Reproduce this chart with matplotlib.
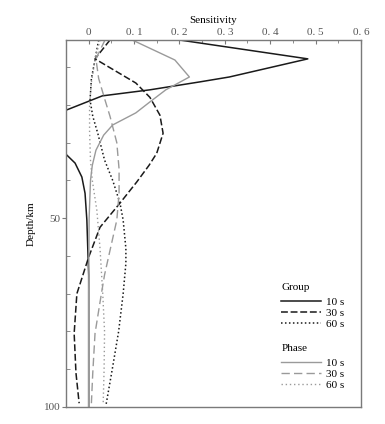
import numpy as np
import matplotlib
matplotlib.use("Agg")
import matplotlib.pyplot as plt
from matplotlib.ticker import MultipleLocator, FixedLocator, FixedFormatter

plt.rcParams['font.family'] = ['Liberation Serif', 'DejaVu Serif']

# Group velocity sensitivity kernels (depth in km, sensitivity)
group_10_depth = [2.8, 7.8, 12.6, 13.9, 16.0, 17.6, 21.4, 25, 29, 33.3, 35.4, 39.1, 43.4, 50.5, 58, 65, 80, 100]
group_10_sens = [0.2, 0.483, 0.31, 0.245, 0.135, 0.03, -0.05, -0.09, -0.08, -0.048, -0.03, -0.015, -0.008, -0.004, -0.002, 0.0, 0.0, 0.0]

group_30_depth = [2.8, 7.8, 14.2, 18, 22.7, 27.5, 32.8, 36, 40.4, 46, 52.4, 60.3, 70, 80.5, 91, 99]
group_30_sens = [0.047, 0.014, 0.104, 0.135, 0.157, 0.164, 0.150, 0.133, 0.106, 0.069, 0.025, 0.0, -0.026, -0.032, -0.028, -0.021]

group_60_depth = [2.8, 8, 13, 18.7, 23, 27.5, 34.6, 40, 46, 50.5, 58, 62, 70, 80, 90, 99.6]
group_60_sens = [0.022, 0.014, 0.006, 0.003, 0.009, 0.02, 0.035, 0.053, 0.069, 0.076, 0.082, 0.082, 0.076, 0.066, 0.052, 0.038]

# Phase velocity sensitivity kernels
phase_10_depth = [2.8, 8.1, 12.6, 16, 19.2, 22.1, 25.3, 28, 32, 36, 40, 50, 70, 100]
phase_10_sens = [0.096, 0.19, 0.222, 0.17, 0.135, 0.104, 0.053, 0.033, 0.016, 0.008, 0.004, 0.001, 0.0, 0.0]

phase_30_depth = [2.8, 7.8, 13, 18.7, 23, 30, 37, 43.4, 50.5, 58, 65, 70, 80.5, 91, 99]
phase_30_sens = [0.036, 0.016, 0.022, 0.036, 0.047, 0.062, 0.067, 0.067, 0.062, 0.048, 0.035, 0.028, 0.014, 0.009, 0.006]

phase_60_depth = [2.8, 8, 14, 20, 27, 34.6, 40, 47.9, 58, 70, 80, 90, 99]
phase_60_sens = [0.025, 0.014, 0.006, 0.002, 0.002, 0.004, 0.008, 0.018, 0.025, 0.031, 0.035, 0.034, 0.032]

x_ticks = [0, 0.1, 0.2, 0.3, 0.4, 0.5, 0.6]
x_tick_labels = ["0", "0. 1", "0. 2", "0. 3", "0. 4", "0. 5", "0. 6"]
periods = ["10 s", "30 s", "60 s"]

black = "#1a1a1a"
grey = "#9a9a9a"
spine_grey = "#7a7a7a"

fig = plt.figure(figsize=(3.85, 4.24), dpi=100)
ax = fig.add_axes([0.1714, 0.0401, 0.766, 0.8656])

styles = ["-", (0, (4.5, 1.8)), (0, (1, 1.6))]
phase_styles = ["-", (0, (6, 3)), (0, (1, 2))]

g_lines = []
for d, s, ls in zip([group_10_depth, group_30_depth, group_60_depth],
                    [group_10_sens, group_30_sens, group_60_sens], styles):
    ln, = ax.plot(s, d, color=black, linestyle=ls, linewidth=1.1)
    g_lines.append(ln)

p_lines = []
for d, s, ls in zip([phase_10_depth, phase_30_depth, phase_60_depth],
                    [phase_10_sens, phase_30_sens, phase_60_sens], phase_styles):
    ln, = ax.plot(s, d, color=grey, linestyle=ls, linewidth=1.0)
    p_lines.append(ln)

ax.set_xlim(-0.05, 0.6)
ax.set_ylim(100, 2.8)

# top axis
ax.xaxis.set_ticks_position('top')
ax.xaxis.set_label_position('top')
ax.xaxis.set_major_locator(FixedLocator(x_ticks))
ax.xaxis.set_major_formatter(FixedFormatter(x_tick_labels))
ax.xaxis.set_minor_locator(MultipleLocator(0.05))
ax.tick_params(axis='x', which='major', direction='in', length=3, pad=2,
               colors=spine_grey, labelcolor="#555555", labelsize=8)
ax.tick_params(axis='x', which='minor', direction='in', length=2, colors=spine_grey)
ax.set_xlabel("Sensitivity", fontsize=8, labelpad=4)

# left axis
ax.yaxis.set_major_locator(FixedLocator([50, 100]))
ax.yaxis.set_minor_locator(MultipleLocator(10))
ax.tick_params(axis='y', which='major', direction='out', length=3, pad=1,
               colors=spine_grey, labelcolor="#555555", labelsize=8)
ax.tick_params(axis='y', which='minor', direction='in', length=3, colors=spine_grey)
ax.set_ylabel("Depth/km", fontsize=8, labelpad=6)

for sp in ax.spines.values():
    sp.set_color(spine_grey)
    sp.set_linewidth(1.0)

# legends
leg_kw = dict(frameon=False, fontsize=8, title_fontsize=8, handlelength=3.6,
              handletextpad=0.4, labelspacing=0.12, alignment='left',
              borderpad=0, borderaxespad=0)
leg1 = ax.legend(g_lines, periods, title="Group", loc='upper left',
                 bbox_to_anchor=(0.73, 0.337), **leg_kw)
leg1._legend_box.sep = 3.5
ax.add_artist(leg1)
leg2 = ax.legend(p_lines, periods, title="Phase", loc='upper left',
                 bbox_to_anchor=(0.73, 0.171), **leg_kw)
leg2._legend_box.sep = 3.5

plt.savefig("out.png", dpi=100)
